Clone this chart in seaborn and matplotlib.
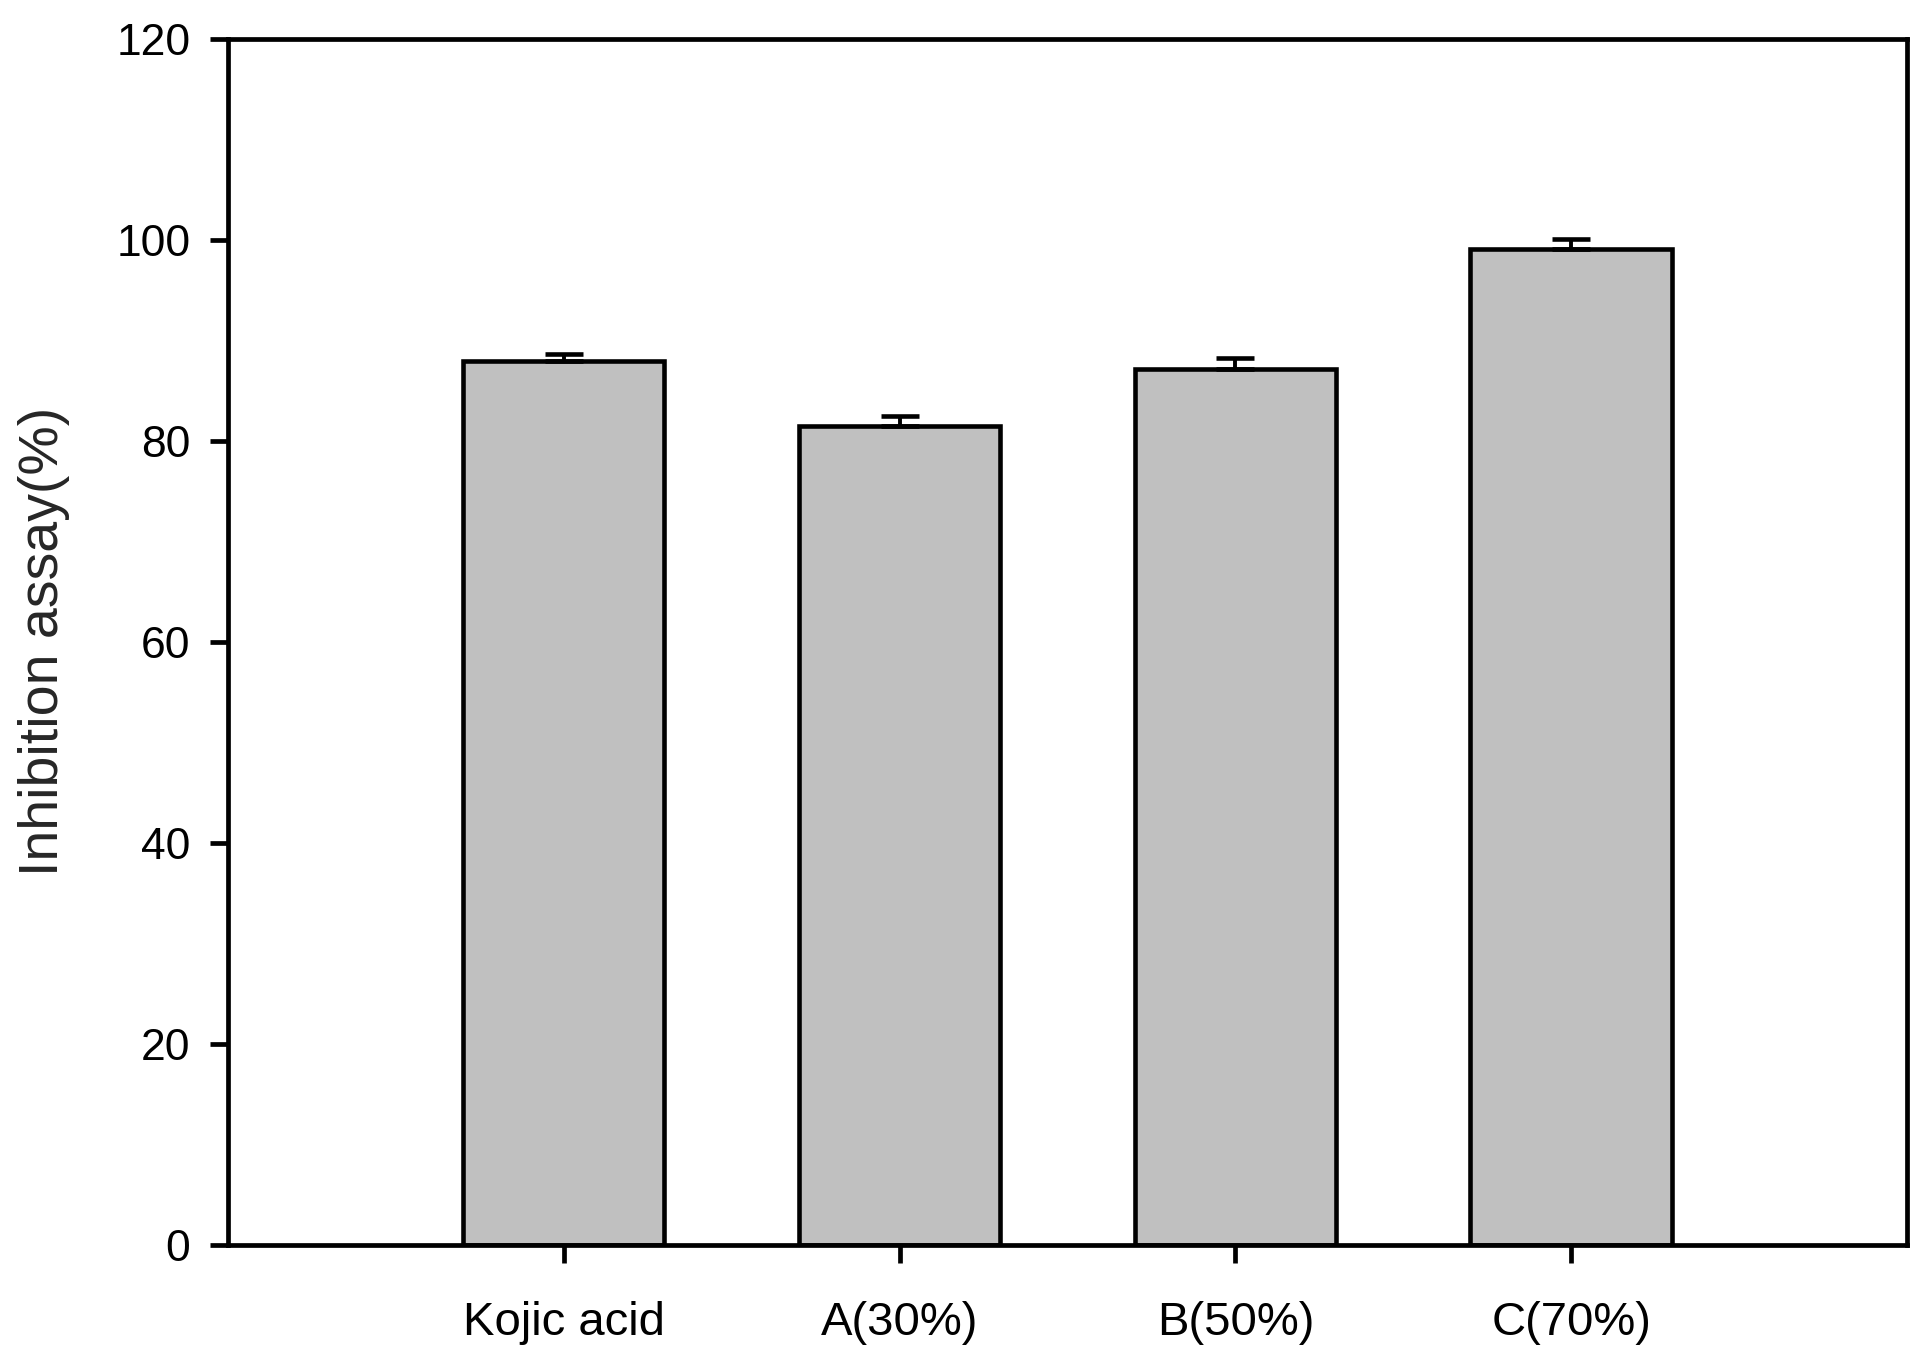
import numpy as np
import pandas as pd
import matplotlib
matplotlib.use("Agg")
import matplotlib.pyplot as plt
import seaborn as sns

# values
samples = ["Kojic acid", "A(30%)", "B(50%)", "C(70%)"]
inhibition = [87.9, 81.5, 87.1, 99.1]
inhibition_err = [0.7, 1.0, 1.1, 1.0]
y_ticks = [0, 20, 40, 60, 80, 100, 120]

sns.set_style("ticks")
plt.rcParams["font.family"] = ["Liberation Sans", "DejaVu Sans"]

df = pd.DataFrame({"sample": samples, "inhibition": inhibition})

fig = plt.figure(figsize=(19.32, 13.63), dpi=100)
ax = fig.add_axes([0.118, 0.0866, 0.869, 0.885])

sns.barplot(data=df, x="sample", y="inhibition", order=samples,
            color="#c0c0c0", saturation=1, width=0.6,
            edgecolor="black", linewidth=3.3, errorbar=None, ax=ax)

# upper-only error bars
x = np.arange(len(samples))
ax.errorbar(x, inhibition, yerr=[np.zeros(len(samples)), inhibition_err],
            fmt="none", ecolor="black", elinewidth=2.8,
            capsize=14, capthick=3.3, zorder=1)

ax.set_xlim(-1, 4)
ax.set_ylim(0, 120)
ax.set_yticks(y_ticks)
ax.set_xlabel("")
ax.set_ylabel("Inhibition assay(%)", fontsize=40)
ax.yaxis.set_label_coords(-0.094, 0.5)

for side in ["top", "right", "bottom", "left"]:
    ax.spines[side].set_visible(True)
    ax.spines[side].set_linewidth(3.4)
    ax.spines[side].set_color("black")

ax.tick_params(axis="both", direction="out", length=13, width=3.4,
               colors="black")
ax.tick_params(axis="y", pad=14, labelsize=32)
ax.tick_params(axis="x", pad=27, labelsize=34)

fig.savefig("out.png", dpi=100, facecolor="white")
